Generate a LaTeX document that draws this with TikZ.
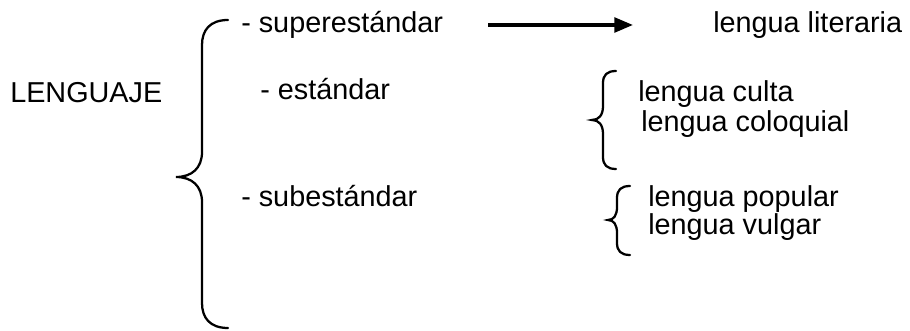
\documentclass[tikz,border=0pt]{standalone}
\usepackage{fontspec}
\setmainfont{Liberation Sans}
\usetikzlibrary{arrows.meta}

\begin{document}
\begin{tikzpicture}[x=0.75pt,y=-0.75pt,
    txt/.style={anchor=base west,inner sep=0pt,font=\fontsize{21.6}{24}\selectfont},
    llv/.style={line width=1.7pt,line cap=round},
    flech/.style={line width=2.6pt,-{Triangle[length=14pt,width=11pt]}}]
\useasboundingbox (0,0) rectangle (910,331);
\node[txt] (leng) at (10,103) {LENGUAJE};
\node[txt] (sup) at (241,33) {- superestándar};
\node[txt] (est) at (260,100) {- estándar};
\node[txt] (sub) at (241,207) {- subestándar};
\node[txt] (lit) at (713,33) {lengua literaria};
\node[txt] (cul) at (638,102) {lengua culta};
\node[txt] (col) at (641,132) {lengua coloquial};
\node[txt] (pop) at (648,207) {lengua popular};
\node[txt] (vul) at (648,235) {lengua vulgar};

\coordinate (fl1) at (488,25);
\coordinate (fl2) at (633,25);
\draw[flech] (fl1) -- (fl2);

% llaves
\draw[llv] (228,20) .. controls +(-18,0) and +(0,-15) .. (202,45) -- (202,152)
    .. controls +(0,16) and +(16,0) .. (176,177) .. controls +(16,0) and +(0,-16) .. (202,202)
    -- (202,303) .. controls +(0,15) and +(-18,0) .. (228,328);
\draw[llv] (616,71) .. controls +(-9,0) and +(0,-8) .. (603,83) -- (603,106)
    .. controls +(0,9) and +(7,0) .. (592,120) .. controls +(7,0) and +(0,-9) .. (603,134)
    -- (603,157) .. controls +(0,8) and +(-9,0) .. (616,169);
\draw[llv] (630,186) .. controls +(-9,0) and +(0,-8) .. (617,198) -- (617,207)
    .. controls +(0,8) and +(6,0) .. (608,220) .. controls +(6,0) and +(0,-8) .. (617,233)
    -- (617,243) .. controls +(0,8) and +(-9,0) .. (630,255);
\end{tikzpicture}
\end{document}
